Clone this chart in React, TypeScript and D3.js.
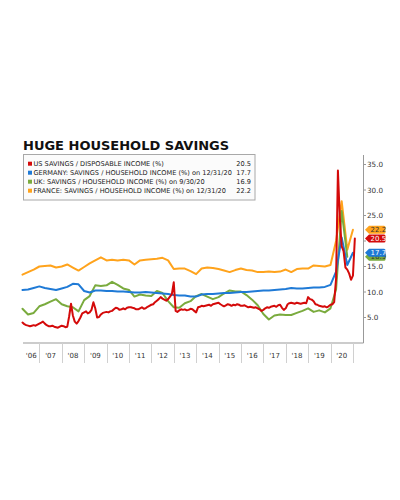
import React from 'react';
import * as d3 from 'd3';

const W = 400;
const H = 500;

// Legend / series meta
const seriesLabels = [
  'US SAVINGS / DISPOSABLE INCOME (%)',
  'GERMANY: SAVINGS / HOUSEHOLD INCOME (%) on 12/31/20',
  'UK: SAVINGS / HOUSEHOLD INCOME (%) on 9/30/20',
  'FRANCE: SAVINGS / HOUSEHOLD INCOME (%) on 12/31/20',
];
const seriesColors = ['#d40a0a', '#1f7ad6', '#7aab3e', '#ffa31c'];
const lastValues = ['20.5', '17.7', '16.9', '22.2'];
const badgeTextColors = ['#ffffff', '#ffffff', '#333333', '#333333'];

// US monthly, from Mar 2006 to Jan 2021
const usValues = [
  4.0, 3.7, 3.5, 3.4, 3.3, 3.4, 3.5, 3.4, 3.6, 3.8,
  4.0, 4.2, 3.8, 3.5, 3.3, 3.3, 3.4, 3.2, 3.1, 3.0, 3.2, 3.4,
  3.3, 3.1, 3.2, 5.2, 7.7, 5.4, 4.2, 3.8, 4.3, 5.0, 5.8, 6.0,
  6.2, 5.8, 6.0, 6.5, 8.0, 6.8, 5.0, 5.1, 5.6, 5.9, 6.0, 6.1,
  6.0, 6.2, 6.3, 6.6, 6.9, 6.8, 6.5, 6.6, 6.8, 6.6, 6.9, 7.0,
  7.0, 6.9, 6.8, 6.6, 6.6, 6.8, 7.0, 6.7, 6.8, 7.1, 7.3, 7.5,
  7.6, 8.0, 8.3, 8.6, 9.0, 8.7, 8.5, 8.3, 8.6, 9.1, 9.6, 11.9,
  6.3, 6.1, 6.4, 6.6, 6.5, 6.6, 6.4, 6.5, 6.7, 6.6, 6.3, 6.0,
  7.0, 7.1, 7.3, 7.2, 7.3, 7.4, 7.5, 7.3, 7.6, 7.7, 7.8, 7.9,
  7.6, 7.4, 7.2, 7.4, 7.6, 7.5, 7.3, 7.5, 7.4, 7.6, 7.5, 7.3,
  7.3, 7.4, 7.2, 7.0, 7.1, 7.0, 6.9, 7.0, 6.8, 6.6, 6.3, 6.5,
  6.8, 7.0, 6.9, 7.1, 7.2, 7.3, 7.1, 7.4, 7.5, 6.9, 6.5, 6.8,
  7.6, 7.8, 7.9, 7.8, 7.7, 7.9, 7.8, 7.7, 7.8, 7.9, 7.8, 9.0,
  8.6, 8.5, 8.2, 7.6, 7.5, 7.3, 7.2, 7.1, 7.2, 7.0, 7.2, 7.5,
  7.6, 8.0, 12.6, 33.8, 24.5, 19.0, 18.0, 14.8, 14.4, 13.6, 12.4, 13.2,
  20.5,
];

// Quarterly, from Q1 2006
const germanyValues = [
  10.4, 10.5, 10.8, 11.1,
  10.8, 10.6, 10.4, 10.7,
  11.0, 11.6, 11.5, 10.2,
  9.9, 10.3, 10.3, 10.2,
  10.2, 10.1, 10.1, 10.0,
  9.9, 9.9, 10.0, 9.9,
  9.8, 9.7, 9.6, 9.4,
  9.3, 9.3, 9.1, 9.1,
  9.5, 9.6, 9.6, 9.7,
  9.8, 9.8, 9.9, 10.0,
  10.0, 10.1, 10.2, 10.3,
  10.3, 10.4, 10.5, 10.6,
  10.8, 10.7, 10.7, 10.8,
  10.9, 10.9, 11.0, 11.4,
  14.0, 20.7, 15.3, 17.7,
];

const ukValues = [
  6.7, 5.6, 5.9, 7.2,
  7.6, 8.1, 8.6, 7.6,
  7.2, 7.0, 6.2, 8.4,
  9.2, 11.3, 11.2, 11.3,
  12.0, 11.4, 10.7, 10.4,
  9.1, 9.5, 9.3, 9.2,
  10.2, 9.8, 8.2, 7.0,
  6.9, 7.8, 8.2, 9.2,
  9.6, 9.1, 8.6, 9.0,
  9.7, 10.3, 10.1, 10.1,
  9.4, 8.5, 7.4, 5.7,
  4.6, 5.4, 5.6, 5.5,
  5.5, 5.9, 6.3, 6.8,
  6.1, 6.4, 6.0, 6.8,
  10.5, 25.9, 16.9,
];

const franceValues = [
  13.4, 13.9, 14.4, 15.0,
  15.1, 15.2, 14.8, 15.0,
  15.4, 14.8, 14.2, 14.9,
  15.6, 16.2, 16.8, 16.2,
  16.3, 16.2, 16.3, 16.2,
  15.4, 16.2, 16.3, 16.4,
  16.5, 16.7, 16.2, 14.5,
  14.6, 14.6, 14.1, 13.5,
  14.6, 14.8, 14.7, 14.5,
  14.2, 13.9, 14.3, 14.6,
  14.3, 14.2, 13.9, 13.9,
  14.0, 13.9, 14.0, 14.4,
  13.9, 14.5, 14.6, 14.6,
  15.2, 15.1, 15.0, 15.3,
  20.0, 27.8, 18.3, 22.2,
];

const yTicks = [5, 10, 15, 20, 25, 30, 35];
// the 20.0 label sits under the end-value badges in the reference
const yTicksLabelled = [5, 10, 15, 25, 30, 35];
const yearLabels = d3.range(2006, 2021);

type Pt = { date: Date; value: number };

const monthly = (vals: number[], y0: number, m0: number): Pt[] =>
  vals.map((v, i) => ({ date: new Date(y0, m0 + i + 1, 0), value: v }));
const quarterly = (vals: number[], y0: number): Pt[] =>
  vals.map((v, i) => ({ date: new Date(y0, 3 * (i + 1), 0), value: v }));

export default function App() {
  const plotLeft = 23;
  const plotRight = 363.5;
  const plotTop = 155;
  const plotBottom = 343;

  const x = d3
    .scaleTime()
    .domain([new Date(2006, 0, 1), new Date(2021, 0, 1)])
    .range([17, 353]);
  const y = d3.scaleLinear().domain([0, 35]).range([plotBottom, 164.5]);

  const series: Pt[][] = [
    monthly(usValues, 2006, 2),
    quarterly(germanyValues, 2006),
    quarterly(ukValues, 2006),
    quarterly(franceValues, 2006),
  ];

  const line = d3
    .line<Pt>()
    .x((d) => x(d.date))
    .y((d) => y(d.value));

  const font = 'DejaVu Sans, Verdana, sans-serif';
  const drawOrder = [3, 2, 1, 0];
  const badgeOrder = [2, 1, 3, 0];

  const badgePath = (cy: number) => {
    const h = 4;
    const l = 365;
    const b = 369;
    const r = 385.5;
    return `M${l},${cy} L${b},${cy - h} L${r - 1.5},${cy - h} Q${r},${cy - h} ${r},${cy - h + 1.5} L${r},${cy + h - 1.5} Q${r},${cy + h} ${r - 1.5},${cy + h} L${b},${cy + h} Z`;
  };

  return (
    <svg
      width={W}
      height={H}
      style={{ position: 'absolute', left: 0, top: 0, background: '#fff' }}
      fontFamily={font}
    >
      <rect x={0} y={0} width={W} height={H} fill="#fff" />
      {/* Title */}
      <text x={23} y={149.5} fontSize={13} fontWeight="bold" fill="#111">
        HUGE HOUSEHOLD SAVINGS
      </text>

      {/* Axes */}
      <line x1={plotLeft} x2={plotRight} y1={plotBottom} y2={plotBottom} stroke="#999" strokeWidth={1} />
      <line x1={plotRight} x2={plotRight} y1={plotTop} y2={plotBottom} stroke="#999" strokeWidth={1} />

      {/* x separators */}
      {d3.range(2007, 2022).map((yr) => {
        const xx = Math.round(x(new Date(yr, 0, 1))) + 0.5;
        return <line key={yr} x1={xx} x2={xx} y1={plotBottom} y2={363} stroke="#d0d0d0" strokeWidth={1} />;
      })}
      {yearLabels.map((yr) => {
        const a = Math.max(x(new Date(yr, 0, 1)), plotLeft);
        const b = x(new Date(yr + 1, 0, 1));
        return (
          <text key={yr} x={(a + b) / 2} y={357.5} fontSize={7} fill="#333" textAnchor="middle">
            {`'${String(yr).slice(2)}`}
          </text>
        );
      })}

      {/* y ticks */}
      {yTicks.map((t) => (
        <line key={t} x1={plotRight} x2={plotRight + 2.5} y1={y(t)} y2={y(t)} stroke="#999" />
      ))}
      {yTicksLabelled.map((t) => (
        <text key={t} x={367} y={y(t) + 2.6} fontSize={7.2} fill="#333">
          {t.toFixed(1)}
        </text>
      ))}

      {/* lines */}
      {drawOrder.map((i) => (
        <path
          key={i}
          d={line(series[i]) || ''}
          fill="none"
          stroke={seriesColors[i]}
          strokeWidth={2}
          strokeLinejoin="round"
          strokeLinecap="round"
        />
      ))}

      {/* legend */}
      <rect x={23.5} y={154.5} width={231.5} height={45.5} fill="#fbfbfb" stroke="#a8a8a8" strokeWidth={1} />
      {seriesLabels.map((lab, i) => {
        const cy = 163.7 + i * 9;
        return (
          <g key={i}>
            <rect x={28} y={cy - 2} width={4} height={4} fill={seriesColors[i]} />
            <text x={33.5} y={cy + 2.3} fontSize={6.6} fill="#222">
              {lab}
            </text>
            <text x={251} y={cy + 2.3} fontSize={6.6} fill="#222" textAnchor="end">
              {lastValues[i]}
            </text>
          </g>
        );
      })}

      {/* end badges */}
      {badgeOrder.map((i) => {
        const cy = y(+lastValues[i]);
        return (
          <g key={i}>
            <path d={badgePath(cy)} fill={seriesColors[i]} />
            <text x={370.5} y={cy + 2.5} fontSize={7} fill={badgeTextColors[i]}>
              {lastValues[i]}
            </text>
          </g>
        );
      })}
    </svg>
  );
}
